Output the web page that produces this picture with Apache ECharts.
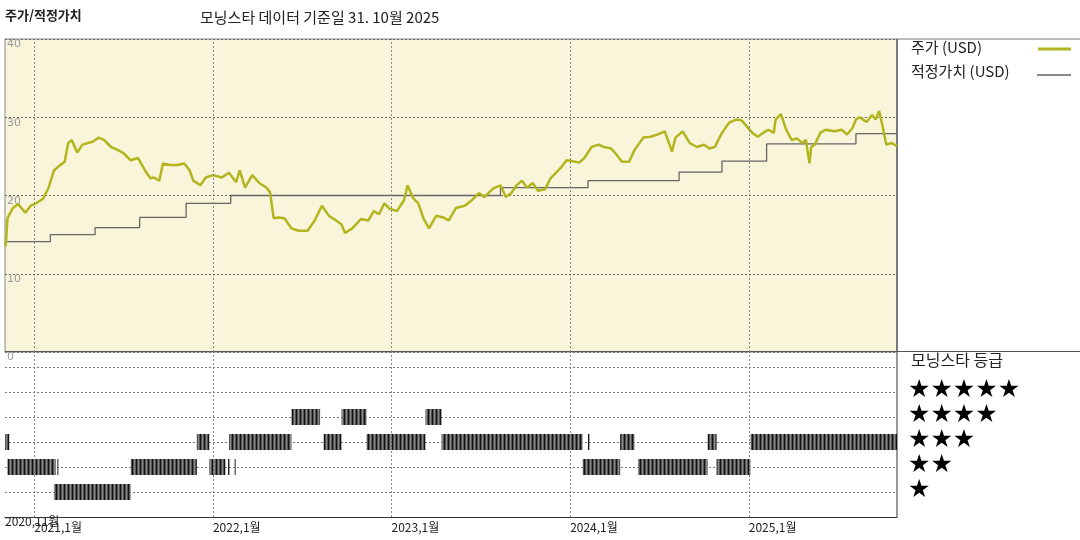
<!DOCTYPE html>
<html>
<head>
<meta charset="utf-8">
<script src="https://cdn.jsdelivr.net/npm/echarts@6/dist/echarts.min.js"></script>
<style>
  html, body { margin: 0; padding: 0; background: #fff; }
  #chart { width: 1080px; height: 540px; }
</style>
</head>
<body>
<div id="chart"></div>
<script>
// price (USD): [decimal year, value]
var priceData = [
  [2020.84, 13.5], [2020.85, 17.1], [2020.88, 18.4], [2020.91, 18.9], [2020.95, 17.8], [2020.98, 18.7],
  [2021.01, 19.0], [2021.05, 19.6], [2021.08, 21.0], [2021.11, 23.2], [2021.13, 23.6], [2021.17, 24.3],
  [2021.19, 26.7], [2021.21, 27.1], [2021.24, 25.5], [2021.27, 26.5], [2021.33, 26.9], [2021.36, 27.4],
  [2021.39, 27.1], [2021.43, 26.2], [2021.47, 25.8], [2021.50, 25.4], [2021.54, 24.5], [2021.58, 24.8],
  [2021.62, 23.2], [2021.65, 22.2], [2021.67, 22.3], [2021.70, 21.9], [2021.72, 24.1], [2021.76, 23.9],
  [2021.80, 23.9], [2021.84, 24.1], [2021.87, 23.2], [2021.89, 21.9], [2021.93, 21.3], [2021.96, 22.3],
  [2022.00, 22.6], [2022.05, 22.3], [2022.09, 22.9], [2022.13, 21.7], [2022.15, 23.2], [2022.18, 21.0],
  [2022.22, 22.6], [2022.26, 21.6], [2022.30, 21.0], [2022.32, 20.4], [2022.34, 17.1], [2022.37, 17.2],
  [2022.40, 17.1], [2022.44, 15.8], [2022.48, 15.5], [2022.53, 15.5], [2022.57, 16.8], [2022.61, 18.7],
  [2022.65, 17.4], [2022.69, 16.8], [2022.72, 16.3], [2022.74, 15.2], [2022.78, 15.8], [2022.83, 17.0],
  [2022.87, 16.8], [2022.90, 18.0], [2022.93, 17.6], [2022.96, 19.0], [2022.99, 18.3], [2023.03, 18.0],
  [2023.07, 19.4], [2023.09, 21.3], [2023.12, 19.7], [2023.15, 19.0], [2023.18, 17.0], [2023.21, 15.8],
  [2023.25, 17.4], [2023.29, 17.2], [2023.32, 16.8], [2023.36, 18.4], [2023.41, 18.7], [2023.45, 19.4],
  [2023.49, 20.3], [2023.52, 19.8], [2023.57, 20.9], [2023.61, 21.3], [2023.64, 19.8], [2023.67, 20.3],
  [2023.70, 21.3], [2023.73, 21.9], [2023.76, 21.0], [2023.79, 21.6], [2023.82, 20.6], [2023.86, 20.8],
  [2023.89, 22.2], [2023.95, 23.6], [2023.98, 24.5], [2024.01, 24.4], [2024.05, 24.2], [2024.08, 24.8],
  [2024.12, 26.2], [2024.16, 26.5], [2024.19, 26.2], [2024.23, 26.0], [2024.26, 25.2], [2024.29, 24.3],
  [2024.33, 24.3], [2024.36, 25.8], [2024.41, 27.4], [2024.45, 27.5], [2024.49, 27.8], [2024.53, 28.2],
  [2024.57, 25.6], [2024.59, 27.4], [2024.63, 28.2], [2024.67, 26.7], [2024.71, 26.2], [2024.75, 26.5],
  [2024.78, 26.0], [2024.81, 26.2], [2024.85, 28.0], [2024.89, 29.3], [2024.93, 29.7], [2024.96, 29.6],
  [2024.99, 28.8], [2025.02, 28.0], [2025.05, 27.5], [2025.08, 28.0], [2025.11, 28.4], [2025.14, 28.0],
  [2025.15, 29.7], [2025.18, 30.4], [2025.21, 28.4], [2025.24, 27.1], [2025.27, 27.3], [2025.30, 26.7],
  [2025.32, 27.1], [2025.34, 24.1], [2025.35, 26.2], [2025.37, 26.5], [2025.40, 28.0], [2025.43, 28.4],
  [2025.48, 28.2], [2025.52, 28.4], [2025.55, 27.8], [2025.58, 28.6], [2025.60, 29.7], [2025.62, 30.0],
  [2025.66, 29.4], [2025.69, 30.3], [2025.71, 29.7], [2025.73, 30.8], [2025.75, 28.8], [2025.77, 26.5],
  [2025.80, 26.7], [2025.83, 26.3]
];
// fair value (USD), step changes
var fairData = [
  [2020.84, 14.1], [2021.09, 15.0], [2021.34, 15.9], [2021.59, 17.2], [2021.85, 19.0], [2022.10, 20.0],
  [2023.61, 21.0], [2024.10, 21.9], [2024.61, 23.0], [2024.85, 24.4], [2025.10, 26.6], [2025.60, 27.9],
  [2025.83, 27.9]
];
// Morningstar rating: [from, to, stars]
var ratingData = [
  [2020.836, 2020.86, 3], [2020.85, 2021.12, 2], [2021.128, 2021.134, 2], [2021.11, 2021.54, 1],
  [2021.54, 2021.91, 2], [2021.91, 2021.98, 3], [2021.98, 2022.07, 2], [2022.085, 2022.09, 2],
  [2022.12, 2022.125, 2], [2022.09, 2022.44, 3], [2022.44, 2022.60, 4], [2022.62, 2022.72, 3],
  [2022.72, 2022.86, 4], [2022.86, 2023.19, 3], [2023.19, 2023.28, 4], [2023.28, 2024.07, 3],
  [2024.10, 2024.105, 3], [2024.07, 2024.28, 2], [2024.28, 2024.36, 3], [2024.38, 2024.77, 2],
  [2024.77, 2024.82, 3], [2024.82, 2025.01, 2], [2025.01, 2025.83, 3]
];
var yearLines = [2021, 2022, 2023, 2024, 2025];
var yearLabels = ['2021,1월', '2022,1월', '2023,1월', '2024,1월', '2025,1월'];
var startLabel = '2020,11월';
var priceTicks = [0, 10, 20, 30, 40];
var starLabels = ['★★★★★', '★★★★', '★★★', '★★', '★'];

var X_MIN = 2020.836, X_MAX = 2025.83;

var chart = echarts.init(document.getElementById('chart'));

// striped pattern for the rating bars
var pat = document.createElement('canvas');
pat.width = 4; pat.height = 4;
var pc = pat.getContext('2d');
pc.fillStyle = '#555'; pc.fillRect(0, 0, 4, 4);
pc.fillStyle = '#111'; pc.fillRect(0, 0, 1, 4);
pc.fillStyle = '#888'; pc.fillRect(2, 0, 1, 4);

var dashed = { color: '#666', type: [2, 2], width: 1 };

function vlines() {
  return {
    silent: true, symbol: 'none', animation: false,
    label: { show: false },
    lineStyle: { color: '#888', type: [2, 2], width: 1 },
    data: yearLines.map(function (y) { return { xAxis: y }; })
  };
}

var xCommon = {
  type: 'value', min: X_MIN, max: X_MAX,
  splitLine: { show: false }, axisTick: { show: false }
};

chart.setOption({
  animation: false,
  grid: [
    { left: 5, right: 183, top: 39, height: 313, backgroundColor: '#f8f5da', show: true, borderColor: '#888', borderWidth: 1 },
    { left: 5, right: 183, top: 352, height: 165 }
  ],
  xAxis: [
    Object.assign({ gridIndex: 0, axisLine: { show: false }, axisLabel: { show: false } }, xCommon),
    Object.assign({
      gridIndex: 1,
      axisLine: { show: true, onZero: false, lineStyle: { color: '#333', width: 1 } },
      axisLabel: {
        show: true, customValues: yearLines, align: 'left', margin: 4,
        color: '#222', fontSize: 12, fontFamily: 'Noto Sans CJK KR',
        formatter: function (v) {
          var i = yearLines.indexOf(Math.round(v));
          return i >= 0 ? yearLabels[i] : '';
        }
      }
    }, xCommon)
  ],
  yAxis: [
    {
      gridIndex: 0, type: 'value', min: 0, max: 40, interval: 10,
      axisLine: { show: false }, axisTick: { show: false },
      axisLabel: { inside: true, verticalAlign: 'top', margin: 2, color: '#999', fontSize: 11, fontFamily: 'DejaVu Sans',
        formatter: function (v) { return priceTicks.indexOf(v) >= 0 ? v : ''; } },
      splitLine: { show: true, lineStyle: dashed }
    },
    {
      gridIndex: 1, type: 'value', min: 0, max: 6.6, interval: 1,
      axisLine: { show: false }, axisTick: { show: false }, axisLabel: { show: false },
      splitLine: { show: true, lineStyle: { color: '#777', type: [2, 2], width: 1 } }
    }
  ],
  series: [
    {
      name: '적정가치', type: 'line', xAxisIndex: 0, yAxisIndex: 0, step: 'end', symbol: 'none',
      lineStyle: { color: '#666', width: 1.3 }, data: fairData, markLine: vlines()
    },
    {
      name: '주가', type: 'line', xAxisIndex: 0, yAxisIndex: 0, symbol: 'none',
      lineStyle: { color: '#b3b51e', width: 2.5 }, data: priceData
    },
    {
      name: '등급', type: 'custom', xAxisIndex: 1, yAxisIndex: 1, data: ratingData,
      renderItem: function (params, api) {
        var a = api.coord([api.value(0), api.value(2)]);
        var b = api.coord([api.value(1), api.value(2)]);
        var w = Math.max(b[0] - a[0], 1.5);
        return { type: 'rect', shape: { x: a[0], y: a[1] - 8, width: w, height: 16 },
          style: { fill: { image: pat, repeat: 'repeat' } } };
      },
      markLine: vlines()
    }
  ],
  graphic: [
    { type: 'text', left: 5, top: 9, style: { text: '주가/적정가치', font: 'bold 13px "Noto Sans CJK KR"', fill: '#222' } },
    { type: 'text', left: 200, top: 10, style: { text: '모닝스타 데이터 기준일 31. 10월 2025', font: '15px "Noto Sans CJK KR"', fill: '#222' } },
    { type: 'text', left: 5, top: 515, style: { text: startLabel, font: '12px "Noto Sans CJK KR"', fill: '#222' } },
    { type: 'line', shape: { x1: 897, y1: 39, x2: 1080, y2: 39 }, style: { stroke: '#777', lineWidth: 1 } },
    { type: 'line', shape: { x1: 897, y1: 39, x2: 897, y2: 517 }, style: { stroke: '#333', lineWidth: 1 } },
    { type: 'line', shape: { x1: 897, y1: 351.5, x2: 1080, y2: 351.5 }, style: { stroke: '#555', lineWidth: 1 } },
    { type: 'line', shape: { x1: 5, y1: 351.5, x2: 897, y2: 351.5 }, style: { stroke: '#555', lineWidth: 1 } },
    { type: 'text', left: 911, top: 40, style: { text: '주가 (USD)', font: '15px "Noto Sans CJK KR"', fill: '#222' } },
    { type: 'line', shape: { x1: 1038, y1: 49, x2: 1071, y2: 49 }, style: { stroke: '#b3b51e', lineWidth: 3 } },
    { type: 'text', left: 911, top: 64, style: { text: '적정가치 (USD)', font: '15px "Noto Sans CJK KR"', fill: '#222' } },
    { type: 'line', shape: { x1: 1037, y1: 75, x2: 1071, y2: 75 }, style: { stroke: '#666', lineWidth: 1.3 } },
    { type: 'text', left: 911, top: 352, style: { text: '모닝스타 등급', font: '16px "Noto Sans CJK KR"', fill: '#222' } }
  ].concat(starLabels.map(function (s, i) {
    return { type: 'text', left: 908, top: 378 + i * 25, style: { text: s, font: '25px "DejaVu Sans"', fill: '#000' } };
  }))
});
</script>
</body>
</html>
